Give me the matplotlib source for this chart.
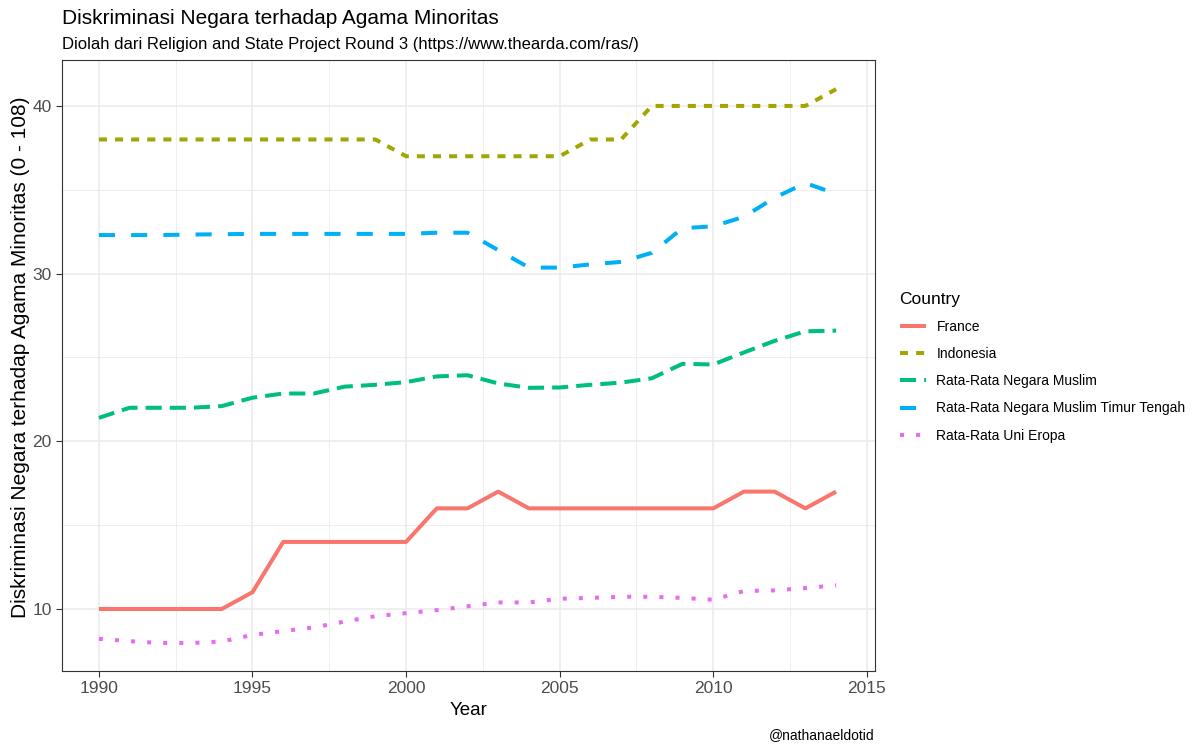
import numpy as np
import matplotlib
matplotlib.use("Agg")
import matplotlib.pyplot as plt

plt.rcParams['font.family'] = ['Liberation Sans', 'DejaVu Sans']

# data
years = list(range(1990, 2015))
france = [10, 10, 10, 10, 10, 11, 14, 14, 14, 14, 14, 16, 16, 17, 16, 16, 16, 16, 16, 16, 16, 17, 17, 16, 17]
indonesia = [38, 38, 38, 38, 38, 38, 38, 38, 38, 38, 37, 37, 37, 37, 37, 37, 38, 38, 40, 40, 40, 40, 40, 40, 41]
muslim = [21.4, 22.0, 22.0, 22.0, 22.1, 22.6, 22.85, 22.85, 23.26, 23.37, 23.53, 23.87, 23.94,
          23.45, 23.19, 23.21, 23.37, 23.5, 23.76, 24.62, 24.58, 25.3, 25.99, 26.56, 26.6]
mideast = [32.3, 32.3, 32.3, 32.33, 32.35, 32.37, 32.37, 32.37, 32.37, 32.37, 32.37, 32.44, 32.44,
           31.4, 30.36, 30.36, 30.55, 30.7, 31.24, 32.71, 32.82, 33.39, 34.53, 35.4, 34.76]
eu = [8.22, 8.08, 7.97, 7.97, 8.06, 8.45, 8.68, 8.9, 9.25, 9.57, 9.75, 9.93, 10.16,
      10.39, 10.39, 10.61, 10.66, 10.73, 10.73, 10.66, 10.55, 11.07, 11.11, 11.25, 11.41]

labels = ["France", "Indonesia", "Rata-Rata Negara Muslim",
          "Rata-Rata Negara Muslim Timur Tengah", "Rata-Rata Uni Eropa"]
series = [france, indonesia, muslim, mideast, eu]
colors = ["#F8766D", "#A3A500", "#00BF7D", "#00B0F6", "#E76BF3"]
dashes = [None, (2, 2), (4, 2), (4, 4), (1, 3)]

fig = plt.figure(figsize=(12, 7.5), dpi=100)
ax = fig.add_axes([0.0517, 0.1053, 0.6773, 0.8147])

for s, lab, c, d in zip(series, labels, colors, dashes):
    if d is None:
        ax.plot(years, s, color=c, lw=2.9, label=lab, solid_capstyle='butt')
    else:
        ax.plot(years, s, color=c, lw=2.9, label=lab, dashes=d, dash_capstyle='butt')

ax.set_xlim(1988.8, 2015.26)
ax.set_ylim(6.3, 42.74)
ax.set_xticks([1990, 1995, 2000, 2005, 2010, 2015])
ax.set_yticks([10, 20, 30, 40])
ax.set_xticks(np.arange(1992.5, 2015, 5), minor=True)
ax.set_yticks([15, 25, 35], minor=True)
ax.grid(True, which='major', color='#EBEBEB', lw=1.1)
ax.grid(True, which='minor', color='#EBEBEB', lw=0.6)
ax.set_axisbelow(True)
for sp in ax.spines.values():
    sp.set_color('#333333')
    sp.set_linewidth(0.8)
ax.tick_params(which='major', length=4, color='#333333', labelsize=12.5, labelcolor='#4D4D4D')
ax.tick_params(which='minor', length=0)

ax.set_xlabel("Year", fontsize=13.5, labelpad=4)
ax.set_ylabel("Diskriminasi Negara terhadap Agama Minoritas (0 - 108)", fontsize=15)
ax.yaxis.set_label_coords(-0.040, 0.514)

fig.text(0.0517, 0.976, "Diskriminasi Negara terhadap Agama Minoritas", fontsize=15, va='center', ha='left')
fig.text(0.0517, 0.94, "Diolah dari Religion and State Project Round 3 (https://www.thearda.com/ras/)",
         fontsize=12, va='center', ha='left')
fig.text(0.729, 0.02, "@nathanaeldotid", fontsize=10, ha='right', va='center')

leg = ax.legend(loc='upper left', bbox_to_anchor=(1.0237, 0.63), frameon=False,
                title="Country", fontsize=10, title_fontsize=12.5,
                handlelength=1.9, handletextpad=0.75, labelspacing=0.95, borderaxespad=0)
leg._legend_box.align = "left"

fig.savefig("out.png", dpi=100)
